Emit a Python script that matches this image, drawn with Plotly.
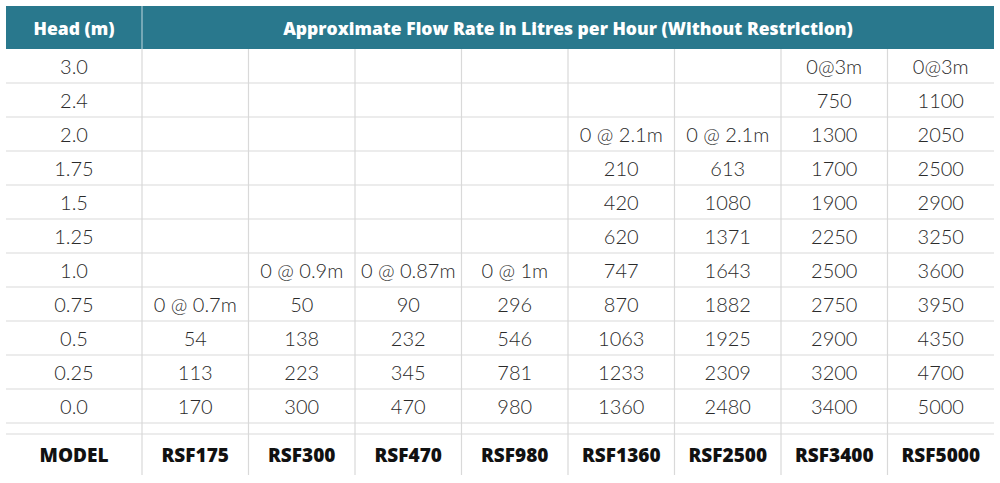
import plotly.graph_objects as go

# ---------------- data ----------------
head_title = "Head (m)"
flow_title = "Approximate Flow Rate in Litres per Hour (Without Restriction)"
model_label = "MODEL"
heads = ["3.0", "2.4", "2.0", "1.75", "1.5", "1.25", "1.0", "0.75", "0.5", "0.25", "0.0"]
models = ["RSF175", "RSF300", "RSF470", "RSF980", "RSF1360", "RSF2500", "RSF3400", "RSF5000"]
rsf175 = ["", "", "", "", "", "", "", "0 @ 0.7m", "54", "113", "170"]
rsf300 = ["", "", "", "", "", "", "0 @ 0.9m", "50", "138", "223", "300"]
rsf470 = ["", "", "", "", "", "", "0 @ 0.87m", "90", "232", "345", "470"]
rsf980 = ["", "", "", "", "", "", "0 @ 1m", "296", "546", "781", "980"]
rsf1360 = ["", "", "0 @ 2.1m", "210", "420", "620", "747", "870", "1063", "1233", "1360"]
rsf2500 = ["", "", "0 @ 2.1m", "613", "1080", "1371", "1643", "1882", "1925", "2309", "2480"]
rsf3400 = ["0@3m", "750", "1300", "1700", "1900", "2250", "2500", "2750", "2900", "3200", "3400"]
rsf5000 = ["0@3m", "1100", "2050", "2500", "2900", "3250", "3600", "3950", "4350", "4700", "5000"]
columns = [rsf175, rsf300, rsf470, rsf980, rsf1360, rsf2500, rsf3400, rsf5000]

# ---------------- layout constants ----------------
W, H = 1000, 483
X0, X1 = 6, 994            # table left/right
FIRST_W = 136              # width of Head column
Y_TOP, HEAD_H = 6, 43      # header band
ROW_H = 34
SPACER_H = 11
MODEL_H = 41
TEXT_DY = 3                # baseline nudge for text
TEAL = "#29788d"
GRID = "#d9d9d9"
TXT = "#2a2a2a"
FONT = "Lato"
BOLD_FONT = "Open Sans"

n_cols = len(models)
col_w = (X1 - X0 - FIRST_W) / n_cols
col_edges = [X0 + FIRST_W + i * col_w for i in range(n_cols + 1)]
col_centers = [X0 + FIRST_W / 2] + [(col_edges[i] + col_edges[i + 1]) / 2 for i in range(n_cols)]

body_top = Y_TOP + HEAD_H
row_edges = [body_top + i * ROW_H for i in range(len(heads) + 1)]
row_centers = [(row_edges[i] + row_edges[i + 1]) / 2 + TEXT_DY for i in range(len(heads))]
spacer_bottom = row_edges[-1] + SPACER_H
model_bottom = spacer_bottom + MODEL_H
model_center = (spacer_bottom + model_bottom) / 2 + TEXT_DY

fig = go.Figure()

shapes = []
# header band
shapes.append(dict(type="rect", x0=X0, x1=X1, y0=Y_TOP, y1=body_top,
                   fillcolor=TEAL, line=dict(width=0), layer="below"))
shapes.append(dict(type="line", x0=col_edges[0], x1=col_edges[0], y0=Y_TOP, y1=body_top,
                   line=dict(color="#8fb9c4", width=1.5)))
# horizontal grid lines
for y in row_edges[1:] + [spacer_bottom]:
    shapes.append(dict(type="line", x0=X0, x1=X1, y0=y, y1=y, line=dict(color=GRID, width=1.2)))
# vertical grid lines
for x in col_edges[:-1]:
    shapes.append(dict(type="line", x0=x, x1=x, y0=body_top, y1=model_bottom,
                       line=dict(color=GRID, width=1.2)))

body_font = dict(family=FONT, size=20, color=TXT, weight=300)
# body text: head column
fig.add_trace(go.Scatter(
    x=[col_centers[0]] * len(heads), y=row_centers, text=heads, mode="text",
    textfont=body_font, hoverinfo="skip", showlegend=False))
# body text: values
xs, ys, ts = [], [], []
for ci, col in enumerate(columns):
    for ri, v in enumerate(col):
        if v:
            xs.append(col_centers[ci + 1]); ys.append(row_centers[ri]); ts.append(v)
fig.add_trace(go.Scatter(
    x=xs, y=ys, text=ts, mode="text",
    textfont=body_font, hoverinfo="skip", showlegend=False))
# model row
fig.add_trace(go.Scatter(
    x=col_centers, y=[model_center] * (n_cols + 1), text=[model_label] + models, mode="text",
    textfont=dict(family=BOLD_FONT, size=19, color="#111111", weight=800),
    hoverinfo="skip", showlegend=False))
# header text
fig.add_trace(go.Scatter(
    x=[col_centers[0], (col_edges[0] + col_edges[-1]) / 2],
    y=[(Y_TOP + body_top) / 2 + TEXT_DY] * 2, text=[head_title, flow_title], mode="text",
    textfont=dict(family=BOLD_FONT, size=17.5, color="white", weight=800),
    hoverinfo="skip", showlegend=False))

fig.update_layout(
    width=W, height=H, margin=dict(l=0, r=0, t=0, b=0),
    paper_bgcolor="white", plot_bgcolor="white",
    xaxis=dict(range=[0, W], visible=False, fixedrange=True),
    yaxis=dict(range=[H, 0], visible=False, fixedrange=True),
    shapes=shapes, showlegend=False,
)
fig.write_html("out.html", config={"displayModeBar": False},
               post_script="document.body.style.margin='0';document.body.style.overflow='hidden';")
